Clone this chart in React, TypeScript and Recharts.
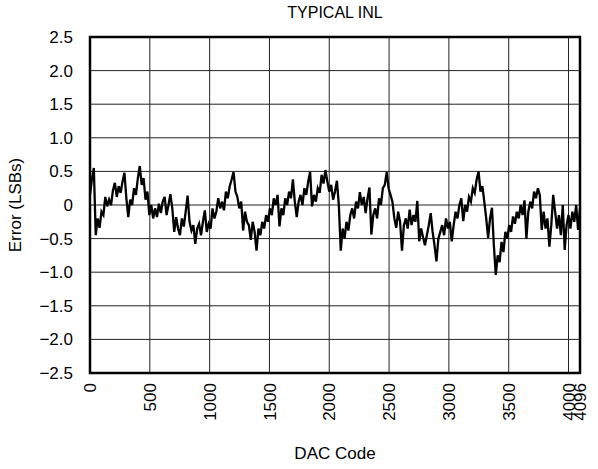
import React from 'react';
import { LineChart, Line, XAxis, YAxis, CartesianGrid, ReferenceArea } from 'recharts';

const CODE_STEP = 16;

// INL (LSBs) every 16 codes, 0..4096
const INL_0_500 = [
  0.15, 0.38, 0.55, -0.45, -0.2, -0.34, -0.1, -0.15, 0.12, -0.02, 0.08, 0.0, 0.22, 0.33, 0.12, 0.28,
  0.18, 0.35, 0.48, 0.1, -0.18, 0.08, 0.0, 0.25, 0.15, 0.4, 0.58, 0.3, 0.4, 0.08, 0.2, -0.15,
];
const INL_500_1000 = [
  0.0, -0.2, -0.05, -0.18, 0.02, -0.12, 0.05, 0.12, -0.15, 0.0, 0.16, -0.05, -0.4, -0.18, -0.35, -0.45,
  -0.2, -0.32, -0.1, 0.14, -0.25, -0.38, -0.3, -0.58, -0.35, -0.28, -0.45, -0.25, -0.08, -0.4, -0.28,
];
const INL_1000_1500 = [
  -0.35, -0.05, -0.2, -0.1, 0.1, -0.05, 0.05, -0.08, 0.2, 0.1, 0.28, 0.38, 0.49, 0.2, 0.12, -0.05,
  0.05, -0.38, -0.1, -0.25, -0.3, -0.52, -0.25, -0.4, -0.68, -0.35, -0.45, -0.25, -0.35, -0.15, -0.25,
];
const INL_1500_2000 = [
  -0.05, -0.15, 0.1, 0.0, 0.15, -0.32, -0.05, -0.15, 0.1, 0.0, 0.2, 0.1, 0.38, 0.05, -0.18, 0.05,
  0.15, 0.0, 0.25, 0.15, 0.35, 0.49, -0.02, 0.15, 0.05, 0.25, 0.18, 0.45, 0.32, 0.52, 0.35, 0.2,
];
const INL_2000_2500 = [
  0.3, 0.08, 0.2, 0.36, 0.0, -0.68, -0.35, -0.5, -0.25, -0.38, -0.15, -0.05, -0.2, 0.05, -0.05, 0.19,
  0.0, 0.12, -0.12, 0.1, 0.26, -0.44, -0.15, -0.05, -0.2, 0.1, 0.0, 0.25, 0.3, 0.49, 0.25,
];
const INL_2500_3000 = [
  0.15, 0.05, -0.2, -0.34, -0.1, -0.25, -0.68, -0.3, -0.2, -0.35, -0.07, -0.3, -0.15, -0.25, 0.06, -0.54,
  -0.35, -0.48, -0.6, -0.45, -0.3, -0.12, -0.4, -0.6, -0.84, -0.5, -0.4, -0.3, -0.45, -0.2, -0.35,
];
const INL_3000_3500 = [
  -0.25, -0.54, -0.3, -0.1, -0.2, 0.0, 0.1, -0.24, 0.0, -0.1, 0.12, 0.05, 0.25, 0.18, 0.38, 0.5,
  0.2, 0.28, 0.05, -0.2, -0.49, -0.2, -0.04, -0.6, -1.04, -0.75, -0.85, -0.55, -0.7, -0.4, -0.5,
];
const INL_3500_4096 = [
  -0.3, -0.4, -0.17, -0.28, -0.1, -0.2, 0.0, -0.15, 0.07, -0.5, -0.1, 0.05, -0.05, 0.2, 0.1, 0.25,
  0.15, -0.37, -0.1, -0.35, -0.2, -0.62, -0.3, 0.15, -0.1, -0.35, -0.15, -0.45, 0.0, -0.67, -0.3, -0.15,
  -0.35, -0.1, -0.25, 0.0, -0.37, -0.05,
];

const INL = [
  ...INL_0_500, ...INL_500_1000, ...INL_1000_1500, ...INL_1500_2000,
  ...INL_2000_2500, ...INL_2500_3000, ...INL_3000_3500, ...INL_3500_4096,
];

const X_TICKS = [0, 500, 1000, 1500, 2000, 2500, 3000, 3500, 4000, 4096];
const Y_TICKS = [-2.5, -2.0, -1.5, -1.0, -0.5, 0, 0.5, 1.0, 1.5, 2.0, 2.5];

const TITLE = 'TYPICAL INL';
const X_LABEL = 'DAC Code';
const Y_LABEL = 'Error (LSBs)';

const data = INL.map((v, i) => ({ code: Math.min(i * CODE_STEP, 4096), inl: v }));

const FONT = "'Liberation Sans', Arial, Helvetica, sans-serif";
const FS = 17;

const fmtY = (v: number) => (v === 0 ? '0' : v.toFixed(1).replace('-', '\u2212'));

const XTick = (props: any) => {
  const { x, y, payload } = props;
  return (
    <text
      x={x}
      y={y}
      transform={`rotate(-90 ${x} ${y})`}
      textAnchor="end"
      dy="0.36em"
      fontSize={FS}
      fontFamily={FONT}
      fill="#000"
    >
      {payload.value}
    </text>
  );
};

export default function App() {
  return (
    <div style={{ position: 'absolute', left: 0, top: 0, width: 598, height: 469, background: '#fff' }}>
      <LineChart
        width={598}
        height={469}
        data={data}
        margin={{ top: 37, right: 18, bottom: 0, left: 0 }}
      >
        <CartesianGrid stroke="#222" strokeWidth={1} horizontal vertical />
        <XAxis
          type="number"
          dataKey="code"
          domain={[0, 4096]}
          ticks={X_TICKS}
          interval={0}
          tickLine={false}
          axisLine={false}
          tickSize={6}
          tickMargin={4}
          height={96}
          tick={<XTick />}
        />
        <YAxis
          type="number"
          domain={[-2.5, 2.5]}
          ticks={Y_TICKS}
          interval={0}
          tickLine={false}
          axisLine={false}
          tickSize={6}
          tickMargin={11}
          width={90}
          tickFormatter={fmtY}
          tick={{ fill: '#000', fontSize: FS, fontFamily: FONT }}
        />
        <ReferenceArea
          x1={0}
          x2={4096}
          y1={-2.5}
          y2={2.5}
          fill="none"
          stroke="#000"
          strokeWidth={2.5}
          ifOverflow="visible"
        />
        <Line
          type="linear"
          dataKey="inl"
          stroke="#000"
          strokeWidth={2.3}
          strokeLinejoin="miter"
          dot={false}
          isAnimationActive={false}
        />
      </LineChart>
      <svg
        width={598}
        height={469}
        style={{ position: 'absolute', left: 0, top: 0, pointerEvents: 'none' }}
      >
        <text x={335} y={18} textAnchor="middle" fontSize={FS - 1} fontFamily={FONT} fill="#000">
          {TITLE}
        </text>
        <text x={335} y={459} textAnchor="middle" fontSize={FS} fontFamily={FONT} fill="#000">
          {X_LABEL}
        </text>
        <text
          x={21}
          y={205}
          transform="rotate(-90 21 205)"
          textAnchor="middle"
          fontSize={FS}
          fontFamily={FONT}
          fill="#000"
        >
          {Y_LABEL}
        </text>
      </svg>
    </div>
  );
}
